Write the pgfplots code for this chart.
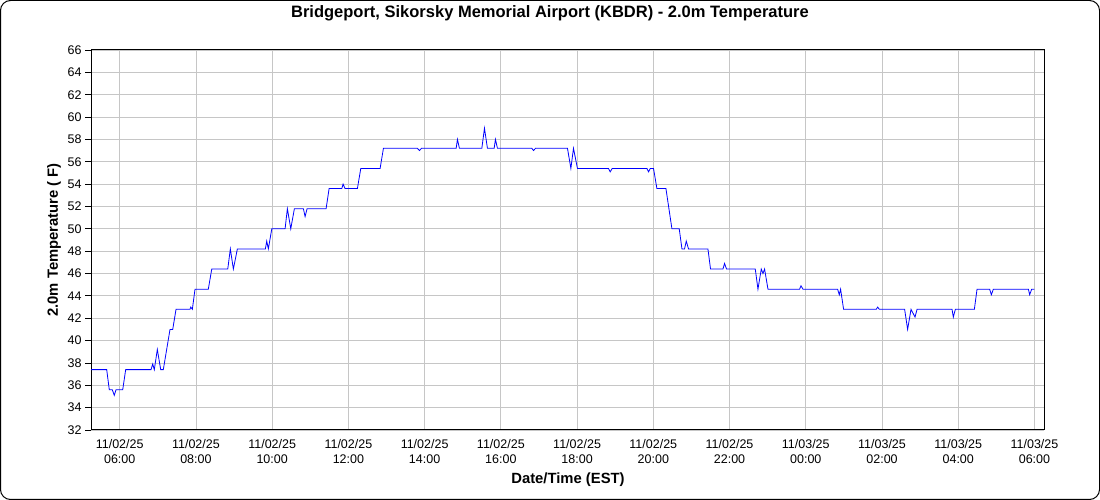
\documentclass[border=0pt]{standalone}
\usepackage{fontspec}
\setmainfont{Liberation Sans}
\usepackage{pgfplots}
\pgfplotsset{compat=1.18}
\begin{document}
\begin{tikzpicture}[x=1pt,y=1pt]
\useasboundingbox (0,0) rectangle (1100,500);
\draw[line width=1pt, rounded corners=10pt] (0.5,0.5) rectangle (1099.5,499.5);
\node[font=\fontsize{16.5}{19}\selectfont\bfseries] at (550,487) {Bridgeport, Sikorsky Memorial Airport (KBDR) - 2.0m Temperature};
\node[font=\fontsize{14.8}{17}\selectfont\bfseries, rotate=90] at (54,260) {2.0m Temperature ( F)};
\node[font=\fontsize{14.8}{17}\selectfont\bfseries] at (568,20) {Date/Time (EST)};
\begin{axis}[
  at={(91pt,70pt)}, anchor=south west,
  width=953pt, height=380pt, scale only axis,
  xmin=5.247, xmax=30.25, ymin=32, ymax=66,
  ytick={32,34,...,66},
  xtick={6,8,...,30},
  xticklabels={{11/02/25\\06:00},{11/02/25\\08:00},{11/02/25\\10:00},{11/02/25\\12:00},{11/02/25\\14:00},{11/02/25\\16:00},{11/02/25\\18:00},{11/02/25\\20:00},{11/02/25\\22:00},{11/03/25\\00:00},{11/03/25\\02:00},{11/03/25\\04:00},{11/03/25\\06:00}},
  xticklabel style={align=center},
  tick label style={font=\fontsize{12.5}{15}\selectfont},
  /pgf/number format/assume math mode=true,
  grid=major,
  major grid style={color=gray!45, line width=0.8pt},
  axis line style={line width=1pt, black},
  tick align=outside,
  ytick pos=left,
  ytick style={black, line width=0.8pt},
  major tick length=6pt,
  xtick style={draw=none},
]
\addplot[color=blue, line width=0.8pt, mark=none] coordinates {
(5.247,37.4) (5.659,37.4) (5.727,35.6) (5.806,35.6) (5.858,35.1) (5.903,35.6)
(6.079,35.6) (6.157,37.4) (6.822,37.4) (6.866,37.9) (6.908,37.4) (6.987,39.2)
(7.076,37.4) (7.144,37.4) (7.320,41.0) (7.391,41.0) (7.478,42.8) (7.845,42.8)
(7.864,43.0) (7.906,42.8) (7.976,44.6) (8.325,44.6) (8.415,46.4) (8.835,46.4)
(8.903,48.2) (8.982,46.4) (9.087,48.2) (9.822,48.2) (9.858,48.9) (9.900,48.2)
(9.990,50.0) (10.339,50.0) (10.399,51.8) (10.488,50.0) (10.583,51.8) (10.819,51.8)
(10.864,51.1) (10.916,51.8) (11.415,51.8) (11.494,53.6) (11.827,53.6) (11.861,54.0)
(11.913,53.6) (12.236,53.6) (12.325,55.4) (12.832,55.4) (12.919,57.2) (13.811,57.2)
(13.864,57.0) (13.916,57.2) (14.827,57.2) (14.861,58.0) (14.913,57.2) (15.501,57.2)
(15.570,59.0) (15.648,57.2) (15.824,57.2) (15.858,58.0) (15.911,57.2) (16.814,57.2)
(16.856,57.0) (16.908,57.2) (17.748,57.2) (17.837,55.4) (17.905,57.2) (18.010,55.4)
(18.824,55.4) (18.869,55.1) (18.921,55.4) (19.832,55.4) (19.874,55.1) (19.919,55.4)
(20.005,55.4) (20.094,53.6) (20.331,53.6) (20.488,50.0) (20.680,50.0) (20.751,48.2)
(20.819,48.2) (20.864,48.9) (20.924,48.2) (21.433,48.2) (21.501,46.4) (21.827,46.4)
(21.869,46.9) (21.921,46.4) (22.675,46.4) (22.745,44.6) (22.832,46.4) (22.877,46.0)
(22.919,46.4) (23.008,44.6) (23.837,44.6) (23.874,44.9) (23.927,44.6) (24.835,44.6)
(24.879,44.1) (24.913,44.6) (24.992,42.8) (25.850,42.8) (25.885,43.0) (25.929,42.8)
(26.593,42.8) (26.672,41.0) (26.761,42.8) (26.866,42.1) (26.919,42.8) (27.837,42.8)
(27.871,42.1) (27.924,42.8) (28.423,42.8) (28.493,44.6) (28.824,44.6) (28.869,44.1)
(28.921,44.6) (29.840,44.6) (29.874,44.1) (29.927,44.6) (29.997,44.6)
};
\end{axis}
\end{tikzpicture}
\end{document}
